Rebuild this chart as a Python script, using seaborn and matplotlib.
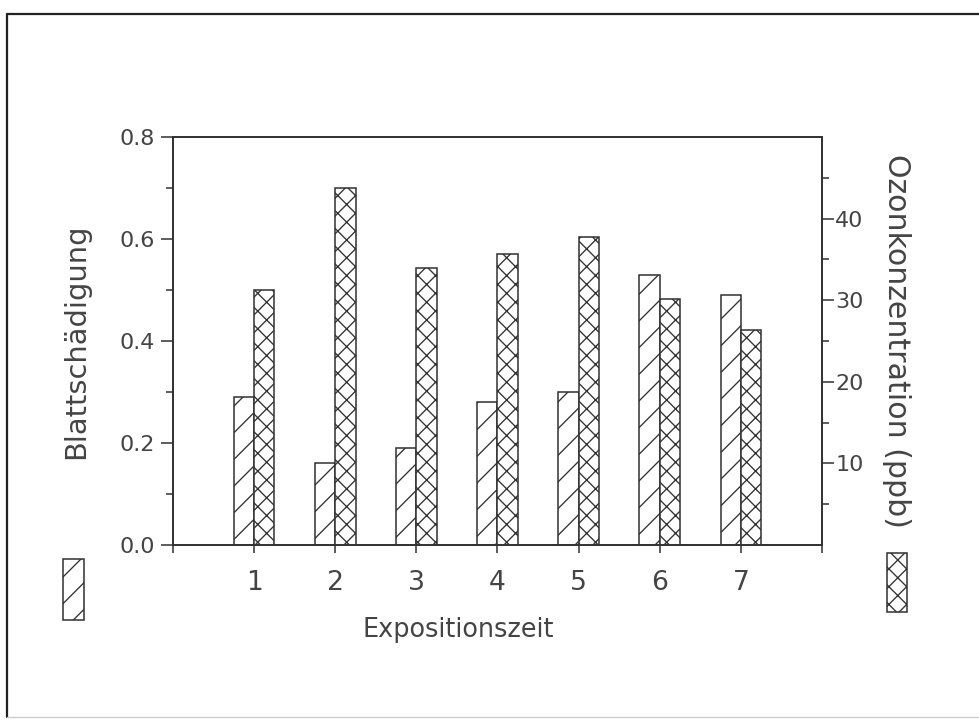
"""
Blattschädigung und Ozonkonzentration je Expositionszeit - Nachbau der Abbildung
"""

import numpy as np
import pandas as pd
import matplotlib
matplotlib.use('Agg')
import matplotlib.pyplot as plt
import seaborn as sns
from matplotlib.patches import Rectangle
from matplotlib.lines import Line2D
from matplotlib.ticker import FixedLocator, FormatStrFormatter

# Daten
expositionszeit = np.array([1, 2, 3, 4, 5, 6, 7])
blattschaedigung = [0.29, 0.16, 0.19, 0.28, 0.30, 0.53, 0.49]
ozon_ppb = [31.3, 43.7, 34.0, 35.7, 37.7, 30.2, 26.4]

x_ticks = [0, 1, 2, 3, 4, 5, 6, 7, 8]
x_ticklabels = ['', '1', '2', '3', '4', '5', '6', '7', '']
links_major = [0.0, 0.2, 0.4, 0.6, 0.8]
links_minor = [0.1, 0.3, 0.5, 0.7]
rechts_major = [10, 20, 30, 40]
rechts_minor = [5, 15, 25, 35, 45]

sns.set_theme(style='white')
plt.rcParams['font.family'] = ['DejaVu Sans']
plt.rcParams['hatch.linewidth'] = 0.6
plt.rcParams['hatch.color'] = '#333333'

DPI = 160
INK = '#333333'
TXT = '#444444'
BAR_W = 0.25
HATCH_SCHADEN = '//'
HATCH_OZON = 'xxx'

df = pd.DataFrame({'zeit': expositionszeit,
                   'schaden': blattschaedigung,
                   'ozon': ozon_ppb})

fig = plt.figure(figsize=(979 / DPI, 722 / DPI), dpi=DPI)
ax = fig.add_axes([0.1767, 0.2452, 0.6629, 0.565])
ax2 = ax.twinx()

# Balken: Blattschädigung links, Ozon rechts neben dem Tick
sns.barplot(x=df['zeit'] - BAR_W / 2, y=df['schaden'], native_scale=True,
            width=BAR_W, orient='x', color='white', edgecolor=INK,
            linewidth=0.7, hatch=HATCH_SCHADEN, errorbar=None, ax=ax)
sns.barplot(x=df['zeit'] + BAR_W / 2, y=df['ozon'], native_scale=True,
            width=BAR_W, orient='x', color='white', edgecolor=INK,
            linewidth=0.7, hatch=HATCH_OZON, errorbar=None, ax=ax2)

ax.set_xlim(0, 8)
ax.set_ylim(0, 0.8)
ax2.set_ylim(0, 50)

ax.xaxis.set_major_locator(FixedLocator(x_ticks))
ax.set_xticklabels(x_ticklabels)
ax.yaxis.set_major_locator(FixedLocator(links_major))
ax.yaxis.set_minor_locator(FixedLocator(links_minor))
ax.yaxis.set_major_formatter(FormatStrFormatter('%.1f'))
ax2.yaxis.set_major_locator(FixedLocator(rechts_major))
ax2.yaxis.set_minor_locator(FixedLocator(rechts_minor))

ax.tick_params(axis='y', which='major', left=True, direction='out', length=5.4,
               width=0.7, color=INK, labelsize=10, labelcolor=TXT, pad=2.7)
ax.tick_params(axis='y', which='minor', left=True, direction='out', length=3,
               width=0.7, color=INK)
ax.tick_params(axis='x', which='major', bottom=True, direction='out', length=3.6,
               width=0.7, color=INK, labelsize=12, labelcolor=TXT, pad=7.5)
ax2.tick_params(axis='y', which='major', right=True, left=False, direction='out',
                length=5.4, width=0.7, color=INK, labelsize=10, labelcolor=TXT, pad=0.5)
ax2.tick_params(axis='y', which='minor', right=True, left=False, direction='out',
                length=3, width=0.7, color=INK)

for a in (ax, ax2):
    for s in a.spines.values():
        s.set_color(INK)
        s.set_linewidth(0.8)

ax.set_ylabel('Blattschädigung', fontsize=13, color=TXT)
ax.yaxis.set_label_coords(-0.1495, 0.5)
ax.yaxis.label.set_va('center')
ax.set_xlabel('Expositionszeit', fontsize=11.5, color=TXT)
ax.xaxis.set_label_coords(0.44, -0.208)
ax.xaxis.label.set_va('center')
ax2.set_ylabel('Ozonkonzentration (ppb)', fontsize=13.5, color=TXT, rotation=270)
ax2.yaxis.set_label_coords(1.1156, 0.5)
ax2.yaxis.label.set_va('center')

# Legendensymbole unten links / rechts
fig.add_artist(Rectangle((0.0644, 0.1413), 0.0215, 0.0845, transform=fig.transFigure,
                         facecolor='white', edgecolor=INK, lw=0.7, hatch=HATCH_SCHADEN))
fig.add_artist(Rectangle((0.906, 0.1524), 0.0204, 0.0817, transform=fig.transFigure,
                         facecolor='white', edgecolor=INK, lw=0.7, hatch=HATCH_OZON))

# Rahmen
fig.add_artist(Line2D([0.00715, 1], [0.9806, 0.9806], transform=fig.transFigure,
                      color='#222222', lw=1.0))
fig.add_artist(Line2D([0.00715, 0.00715], [0.9806, 0.0069], transform=fig.transFigure,
                      color='#222222', lw=1.0))
fig.add_artist(Line2D([0.00715, 1], [0.0069, 0.0069], transform=fig.transFigure,
                      color='#cccccc', lw=0.6))

fig.savefig('out.png', dpi=DPI)
plt.close(fig)
